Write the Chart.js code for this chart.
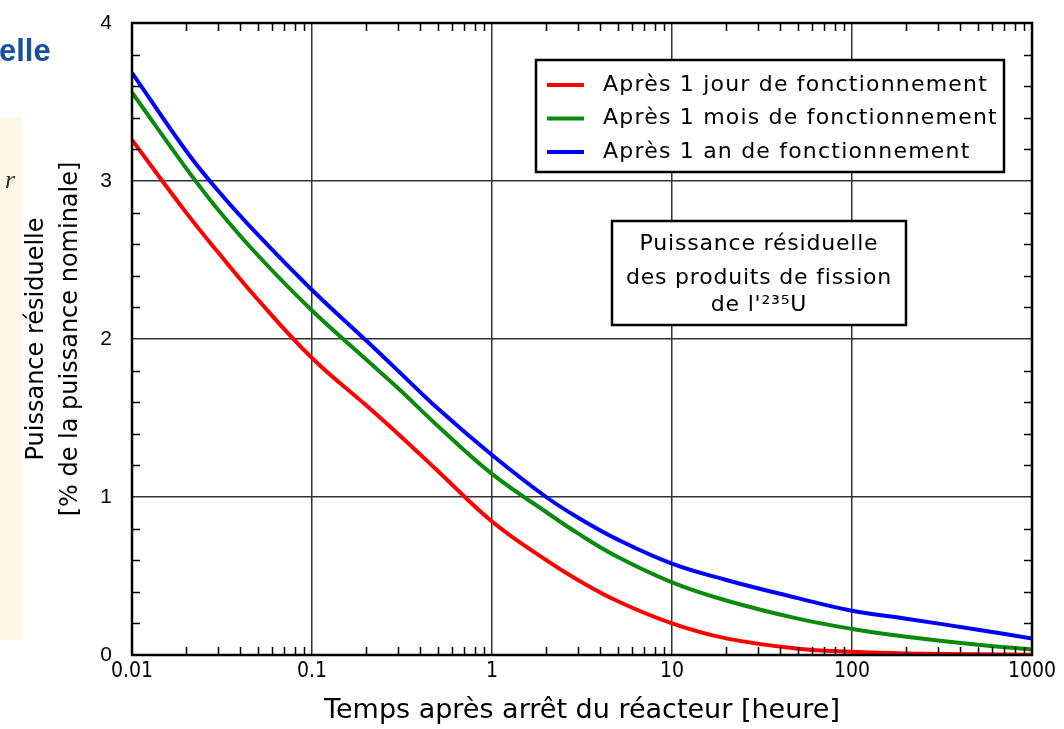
<!DOCTYPE html>
<html>
<head>
<meta charset="utf-8">
<script src="https://cdn.jsdelivr.net/npm/chart.js@4.4.1/dist/chart.umd.min.js"></script>
<style>
  html, body { margin: 0; padding: 0; background: #fff; }
  #wrap { position: relative; width: 1064px; height: 729px; }
</style>
</head>
<body>
<div id="wrap"><canvas id="decayChart" width="1064" height="729"></canvas></div>
<script>
// temps après arrêt (heures) et puissance résiduelle (% nominale)
var times      = [0.01, 0.02, 0.03, 0.05, 0.1, 0.2, 0.3, 0.5, 1, 2, 3, 5, 10, 20, 50, 100, 200, 500, 1000];
var apres1Jour = [3.26, 2.80, 2.55, 2.25, 1.88, 1.58, 1.40, 1.165, 0.845, 0.60, 0.475, 0.34, 0.20, 0.105, 0.04, 0.02, 0.01, 0.005, 0.002];
var apres1Mois = [3.56, 3.08, 2.82, 2.53, 2.18, 1.87, 1.69, 1.45, 1.146, 0.905, 0.77, 0.62, 0.46, 0.345, 0.23, 0.165, 0.115, 0.065, 0.035];
var apres1An   = [3.685, 3.19, 2.94, 2.66, 2.31, 1.99, 1.80, 1.56, 1.266, 1.0, 0.87, 0.73, 0.578, 0.475, 0.36, 0.28, 0.23, 0.16, 0.105];

var seriesLabels = ["Après 1 jour de fonctionnement", "Après 1 mois de fonctionnement", "Après 1 an de fonctionnement"];
var seriesColors = ["#ff0000", "#0a8a0a", "#0000ff"];
var xTicks = [0.01, 0.1, 1, 10, 100, 1000];
var xTickLabels = ["0.01", "0.1", "1", "10", "100", "1000"];
var yTicks = [0, 1, 2, 3, 4];
var boxLines = ["Puissance résiduelle", "des produits de fission", "de l'²³⁵U"];

var comic = "'Comic Sans MS', 'DejaVu Sans', sans-serif";
var comicNarrow = "'DejaVu Sans Condensed', 'DejaVu Sans', sans-serif";

function toPoints(ys) {
  return times.map(function (t, i) { return { x: t, y: ys[i] }; });
}

var datasets = [apres1Jour, apres1Mois, apres1An].map(function (ys, i) {
  return {
    label: seriesLabels[i],
    data: toPoints(ys),
    borderColor: seriesColors[i],
    borderWidth: 4,
    pointRadius: 0,
    fill: false,
    tension: 0.4
  };
});

// cadre, graduations intérieures, légende et encadré
var decorations = {
  id: 'decorations',
  beforeDraw: function (chart) {
    var ctx = chart.ctx;
    ctx.save();
    ctx.fillStyle = '#fdf6e4';
    ctx.fillRect(0, 118, 22, 522);
    ctx.fillStyle = '#333';
    ctx.font = "italic 26px 'Liberation Serif', serif";
    ctx.fillText('r', 5, 188);
    ctx.fillStyle = '#1a4f9f';
    ctx.font = "bold 31px 'Liberation Sans', Arial, sans-serif";
    ctx.fillText('elle', -1, 61);
    ctx.restore();
  },
  afterDraw: function (chart) {
    var ctx = chart.ctx, a = chart.chartArea;
    var xs = chart.scales.x, ys = chart.scales.y;
    ctx.save();
    ctx.strokeStyle = '#000';
    ctx.lineWidth = 1.5;
    ctx.beginPath();
    var tl = 8;
    for (var v = 0.2; v < 4; v += 0.2) {
      if (Math.abs(v - Math.round(v)) < 1e-6) continue;
      var py = Math.round(ys.getPixelForValue(v)) + 0.5;
      ctx.moveTo(a.left, py); ctx.lineTo(a.left + tl, py);
      ctx.moveTo(a.right, py); ctx.lineTo(a.right - tl, py);
    }
    for (var d = 0; d < xTicks.length - 1; d++) {
      for (var k = 2; k <= 9; k++) {
        var px = Math.round(xs.getPixelForValue(xTicks[d] * k)) + 0.5;
        ctx.moveTo(px, a.bottom); ctx.lineTo(px, a.bottom - tl);
        ctx.moveTo(px, a.top); ctx.lineTo(px, a.top + tl);
      }
    }
    ctx.stroke();
    ctx.lineWidth = 2.5;
    ctx.strokeRect(a.left, a.top, a.right - a.left, a.bottom - a.top);

    // légende
    ctx.fillStyle = '#fff';
    ctx.fillRect(536, 60, 468, 112);
    ctx.lineWidth = 2.5;
    ctx.strokeRect(536, 60, 468, 112);
    ctx.font = "22px " + comic;
    ctx.letterSpacing = '1.2px';
    ctx.textBaseline = 'middle';
    chart.data.datasets.forEach(function (ds, i) {
      var ly = 85 + i * 33.5;
      ctx.strokeStyle = ds.borderColor;
      ctx.lineWidth = 4;
      ctx.beginPath(); ctx.moveTo(547, ly); ctx.lineTo(584, ly); ctx.stroke();
      ctx.fillStyle = '#000';
      ctx.fillText(ds.label, 603, ly);
    });

    // encadré
    ctx.fillStyle = '#fff';
    ctx.fillRect(612, 221, 294, 104);
    ctx.strokeStyle = '#000';
    ctx.lineWidth = 2.5;
    ctx.strokeRect(612, 221, 294, 104);
    ctx.fillStyle = '#000';
    ctx.textAlign = 'center';
    ctx.textBaseline = 'alphabetic';
    ctx.font = "22px " + comic;
    ctx.letterSpacing = '0.8px';
    var baselines = [250, 284, 311];
    boxLines.forEach(function (t, i) { ctx.fillText(t, 759, baselines[i]); });
    ctx.restore();
  }
};

var ctx = document.getElementById('decayChart').getContext('2d');
var decayChart = new Chart(ctx, {
  type: 'line',
  data: { datasets: datasets },
  options: {
    responsive: false,
    animation: false,
    layout: { padding: { top: 23, right: 32, bottom: 0, left: 0 } },
    plugins: { legend: { display: false }, tooltip: { enabled: false } },
    scales: {
      x: {
        type: 'logarithmic',
        min: 0.01, max: 1000,
        afterBuildTicks: function (s) { s.ticks = xTicks.map(function (v) { return { value: v }; }); },
        afterFit: function (s) { s.height = 74; s.paddingLeft = 0; s.paddingRight = 0; },
        grid: { color: '#333', lineWidth: 1.5, drawTicks: false },
        border: { color: '#000', width: 2 },
        ticks: {
          autoSkip: false, maxRotation: 0, padding: 4, color: '#000',
          font: { family: comicNarrow, size: 21 },
          callback: function (v) { var i = xTicks.indexOf(v); return i >= 0 ? xTickLabels[i] : ''; }
        },
        title: {
          display: true, text: 'Temps après arrêt du réacteur [heure]', color: '#000',
          font: { family: comic, size: 27 }, padding: { top: 0, bottom: 2 }
        }
      },
      y: {
        min: 0, max: 4,
        afterBuildTicks: function (s) { s.ticks = yTicks.map(function (v) { return { value: v }; }); },
        afterFit: function (s) { s.width = 132; s.paddingTop = 0; s.paddingBottom = 0; },
        grid: { color: '#333', lineWidth: 1.5, drawTicks: false },
        border: { color: '#000', width: 2 },
        ticks: {
          padding: 20, color: '#000',
          font: { family: "'Liberation Sans', Arial, sans-serif", size: 21 }
        },
        title: {
          display: true, text: ['Puissance résiduelle', '[% de la puissance nominale]'], color: '#000',
          font: { family: comic, size: 24, lineHeight: 1.4 }, padding: { top: 20, bottom: 0 }
        }
      }
    }
  },
  plugins: [decorations]
});
</script>
</body>
</html>
